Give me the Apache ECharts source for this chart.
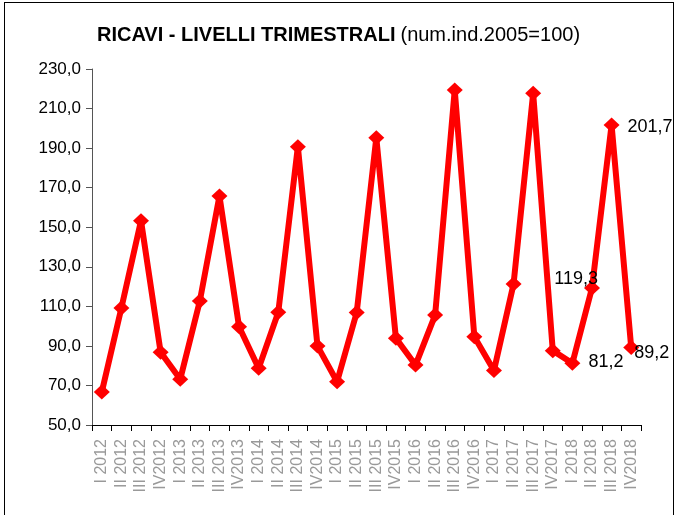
<!DOCTYPE html>
<html>
<head>
<meta charset="utf-8">
<script src="https://cdn.jsdelivr.net/npm/echarts@6/dist/echarts.min.js"></script>
<style>
  html, body { margin: 0; padding: 0; background: #fff; }
  .frame { position: absolute; left: 4px; top: 2px; width: 670px; height: 530px; border: 1px solid #000; box-sizing: border-box; }
  #chart { position: absolute; left: 0; top: 0; width: 677px; height: 515px; }
</style>
</head>
<body>
<div class="frame"></div>
<div id="chart"></div>
<script>
// trimestri
const categories = [
  "I 2012", "II 2012", "III 2012", "IV2012",
  "I 2013", "II 2013", "III 2013", "IV2013",
  "I 2014", "II 2014", "III 2014", "IV2014",
  "I 2015", "II 2015", "III 2015", "IV2015",
  "I 2016", "II 2016", "III 2016", "IV2016",
  "I 2017", "II 2017", "III 2017", "IV2017",
  "I 2018", "II 2018", "III 2018", "IV2018",
];
const ricavi = [
  66.7, 109.2, 153.3, 86.8,
  73.1, 112.7, 165.8, 99.7,
  78.7, 107.0, 190.7, 89.9,
  71.9, 106.9, 195.2, 93.8,
  80.3, 105.6, 219.4, 94.6,
  77.5, 121.3, 217.7, 87.6,
  81.2, 119.3, 201.7, 89.2,
];
// etichette solo sugli ultimi punti: [indice, posizione, offset]
const labelled = [
  [24, "right", [3, -1]],
  [25, "left", [19, -9]],
  [26, "right", [3, 2]],
  [27, "right", [-10, 6]],
];

const FONT = "Liberation Sans, Arial, sans-serif";
const fmt = (v) => v.toFixed(1).replace(".", ",");

const myChart = echarts.init(document.getElementById("chart"));

const data = ricavi.map((v, i) => {
  const l = labelled.find((x) => x[0] === i);
  if (!l) return v;
  return {
    value: v,
    label: {
      show: true,
      position: l[1],
      offset: l[2],
      formatter: (p) => fmt(p.value),
      color: "#000",
      fontSize: 18,
      fontFamily: FONT,
    },
  };
});

const option = {
  animation: false,
  title: {
    text: "{b|RICAVI - LIVELLI TRIMESTRALI} {n|(num.ind.2005=100)}",
    left: "center",
    top: 20,
    textStyle: {
      rich: {
        b: { fontSize: 20, fontWeight: "bold", color: "#000", fontFamily: FONT },
        n: { fontSize: 20, fontWeight: "normal", color: "#000", fontFamily: FONT },
      },
    },
  },
  grid: {
    left: 92,
    right: 36,
    top: 69,
    bottom: 90,
  },
  xAxis: {
    type: "category",
    data: categories,
    boundaryGap: true,
    axisLine: { lineStyle: { color: "#000", width: 1 } },
    axisTick: { show: true, length: 6, lineStyle: { color: "#000" } },
    axisLabel: {
      rotate: 90,
      interval: 0,
      color: "#999",
      fontSize: 16,
      margin: 14,
      fontFamily: FONT,
    },
  },
  yAxis: {
    type: "value",
    min: 50,
    max: 230,
    interval: 20,
    splitLine: { show: false },
    axisLine: { show: true, lineStyle: { color: "#555", width: 1 } },
    axisTick: { show: true, length: 6, lineStyle: { color: "#555" } },
    axisLabel: {
      color: "#000",
      fontSize: 17,
      margin: 11,
      formatter: fmt,
      fontFamily: FONT,
    },
  },
  series: [
    {
      type: "line",
      data: data,
      symbol: "diamond",
      symbolSize: [16, 15],
      lineStyle: { color: "#FF0000", width: 6 },
      itemStyle: { color: "#FF0000" },
    },
  ],
};
myChart.setOption(option);
window.addEventListener("resize", function () {
  myChart.resize();
});
</script>
</body>
</html>
